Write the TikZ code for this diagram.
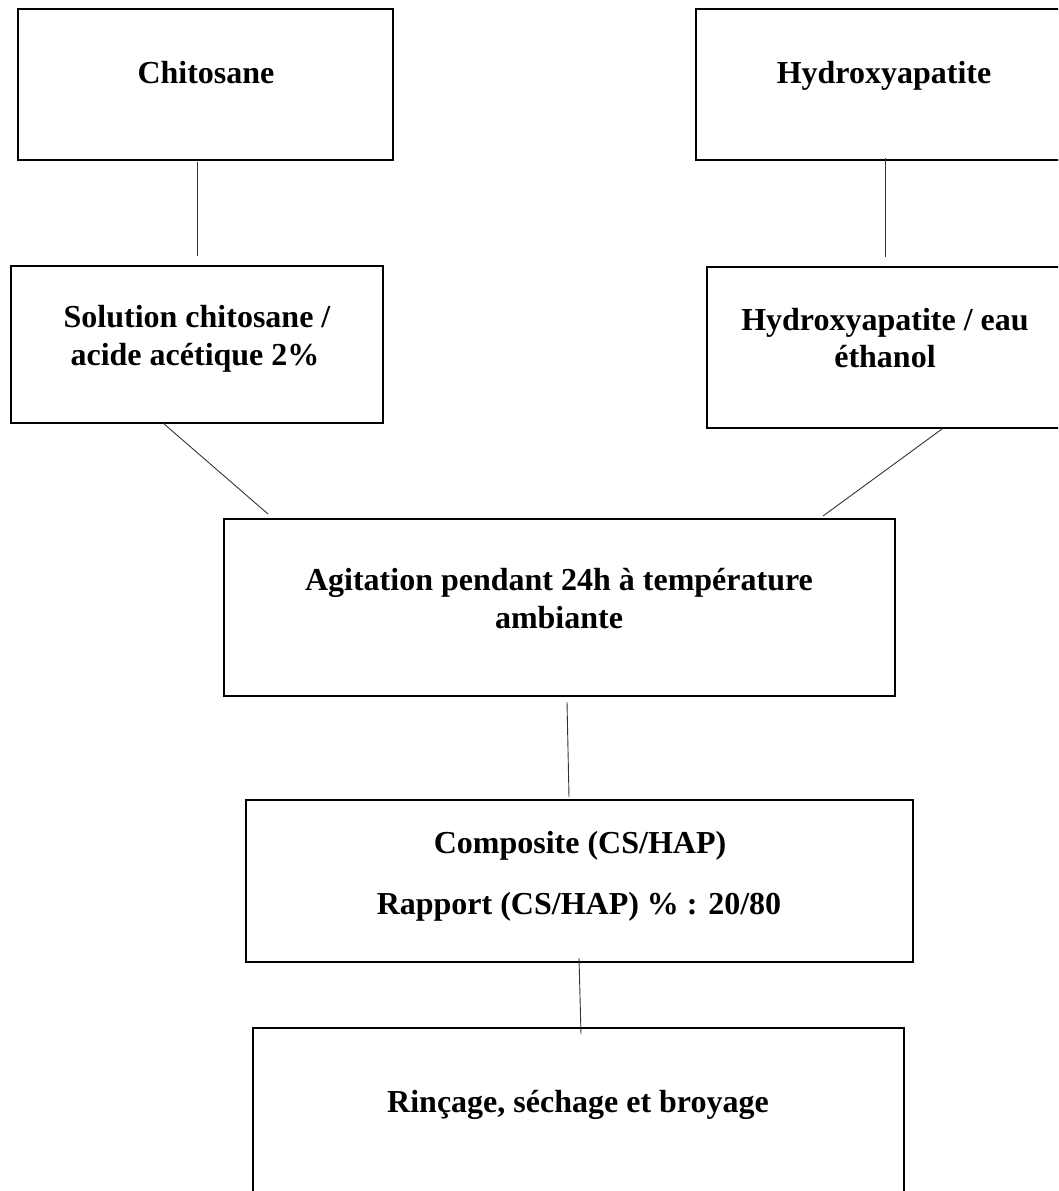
\documentclass[tikz,border=0pt]{standalone}
\usepackage{fontspec}
\setmainfont{Liberation Serif}
\begin{document}
\begin{tikzpicture}[x=1pt,y=-1pt,
  boxstyle/.style={draw=black, line width=2pt, rectangle, inner sep=0pt, outer sep=0pt},
  txt/.style={anchor=base, inner sep=0pt, font=\bfseries\fontsize{32}{38}\selectfont},
  conn/.style={draw=black!80, line width=0.9pt}]
\useasboundingbox (0,0) rectangle (1058,1191);
\clip (0,0) rectangle (1058,1191);
% boxes
\node[boxstyle, minimum width=375pt, minimum height=151pt] (b1) at (205.5,84.5) {};
\node[boxstyle, minimum width=370pt, minimum height=151pt] (b2) at (881,84.5) {};
\node[boxstyle, minimum width=372pt, minimum height=157pt] (b3) at (197,344.5) {};
\node[boxstyle, minimum width=360pt, minimum height=161pt] (b4) at (887,347.5) {};
\node[boxstyle, minimum width=671pt, minimum height=177pt] (b5) at (559.5,607.5) {};
\node[boxstyle, minimum width=667pt, minimum height=162pt] (b6) at (579.5,881) {};
\node[boxstyle, minimum width=651pt, minimum height=172pt] (b7) at (578.5,1114) {};
% texts
\node[txt] (t1) at (206,83) {Chitosane};
\node[txt] (t2) at (884,83) {Hydroxyapatite};
\node[txt] (t3a) at (197,327) {Solution chitosane /};
\node[txt] (t3b) at (195,365) {acide acétique 2\%};
\node[txt] (t4a) at (885,330) {Hydroxyapatite / eau};
\node[txt] (t4b) at (885,367) {éthanol};
\node[txt] (t5a) at (559,590) {Agitation pendant 24h à température};
\node[txt] (t5b) at (559,628) {ambiante};
\node[txt] (t6a) at (580,853) {Composite (CS/HAP)};
\node[txt] (t6b) at (579,914) {Rapport (CS/HAP) \% : 20/80};
\node[txt] (t7) at (578,1112) {Rinçage, séchage et broyage};
% connector end points
\coordinate (c1a) at (197,162);
\coordinate (c1b) at (197,256);
\coordinate (c2a) at (885,158);
\coordinate (c2b) at (885,257);
\coordinate (c3a) at (163,423);
\coordinate (c3b) at (268,514);
\coordinate (c4a) at (942,429);
\coordinate (c4b) at (823,516);
\coordinate (c5a) at (567,702);
\coordinate (c5b) at (569,797);
\coordinate (c6a) at (579,958);
\coordinate (c6b) at (581,1034);
\draw[conn] (c1a) -- (c1b);
\draw[conn] (c2a) -- (c2b);
\draw[conn] (c3a) -- (c3b);
\draw[conn] (c4a) -- (c4b);
\draw[conn] (c5a) -- (c5b);
\draw[conn] (c6a) -- (c6b);
\end{tikzpicture}
\end{document}
